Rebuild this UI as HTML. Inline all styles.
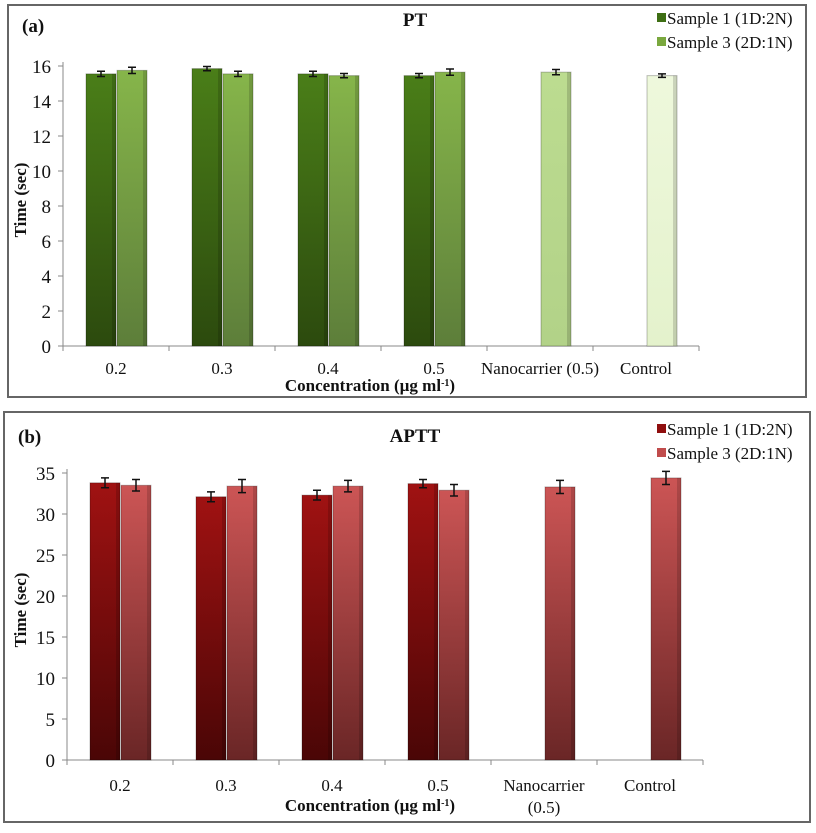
<!DOCTYPE html>
<html><head><meta charset="utf-8"><style>
body{margin:0;background:#fff;}
text{font-family:"Liberation Serif",serif;fill:#111;}
</style></head><body>
<svg id="c" width="816" height="828" viewBox="0 0 816 828" xmlns="http://www.w3.org/2000/svg">
<defs>
<linearGradient id="gA1" x1="0" y1="0" x2="0" y2="1"><stop offset="0" stop-color="#4a7e18"/><stop offset="1" stop-color="#2c4a0e"/></linearGradient>
<linearGradient id="gA2" x1="0" y1="0" x2="0" y2="1"><stop offset="0" stop-color="#86b54a"/><stop offset="1" stop-color="#5d7e3a"/></linearGradient>
<linearGradient id="gA3" x1="0" y1="0" x2="0" y2="1"><stop offset="0" stop-color="#bcdc90"/><stop offset="1" stop-color="#b2d288"/></linearGradient>
<linearGradient id="gA4" x1="0" y1="0" x2="0" y2="1"><stop offset="0" stop-color="#eef8dc"/><stop offset="1" stop-color="#e4f2cc"/></linearGradient>
<linearGradient id="gB1" x1="0" y1="0" x2="0" y2="1"><stop offset="0" stop-color="#a01212"/><stop offset="1" stop-color="#4a0606"/></linearGradient>
<linearGradient id="gB2" x1="0" y1="0" x2="0" y2="1"><stop offset="0" stop-color="#cc5555"/><stop offset="1" stop-color="#6a2626"/></linearGradient>
</defs>
<rect x="8" y="5" width="798" height="392" fill="#fff" stroke="#666" stroke-width="2"/>
<rect x="4" y="412" width="806" height="410" fill="#fff" stroke="#666" stroke-width="2"/>
<g id="pa"></g>
<g id="pb"></g>
</svg>
<script>
const categoriesA = ["0.2","0.3","0.4","0.5","Nanocarrier (0.5)","Control"];
const sample1A = [15.55,15.85,15.55,15.45];
const sample3A = [15.75,15.55,15.45,15.65,15.65,15.45];
const err1A = [0.15,0.12,0.15,0.12];
const err3A = [0.18,0.15,0.12,0.18,0.15,0.1];
const ticksA = [0,2,4,6,8,10,12,14,16];

const categoriesB = [["0.2"],["0.3"],["0.4"],["0.5"],["Nanocarrier","(0.5)"],["Control"]];
const sample1B = [33.8,32.1,32.3,33.7];
const sample3B = [33.5,33.4,33.4,32.9,33.3,34.4];
const err1B = [0.6,0.6,0.6,0.5];
const err3B = [0.7,0.8,0.7,0.7,0.8,0.8];
const ticksB = [0,5,10,15,20,25,30,35];

const NS="http://www.w3.org/2000/svg";
function mk(parent,tag,attrs,txt){const e=document.createElementNS(NS,tag);for(const k in attrs)e.setAttribute(k,attrs[k]);if(txt!==undefined)e.textContent=txt;parent.appendChild(e);return e;}

function drawPanel(g,cfg){
  const x0=cfg.x0,cw=106,n=6,y0=cfg.y0,ppu=cfg.ppu,bw=30;
  const yS=v=>y0-v*ppu;
  const xC=i=>x0+cw*i+cw/2;
  const ax=mk(g,'line',{x1:x0,y1:yS(cfg.max)-4,x2:x0,y2:y0,stroke:'#888','stroke-width':1});
  
  const bx=mk(g,'line',{x1:x0,y1:y0,x2:x0+cw*n,y2:y0,stroke:'#888','stroke-width':1});
  
  cfg.ticks.forEach(t=>{
    mk(g,'line',{x1:x0-5,y1:yS(t),x2:x0,y2:yS(t),stroke:'#888'});
    const l=mk(g,'text',{x:x0-12,y:yS(t)+7,'text-anchor':'end','font-size':19,'font-family':'Liberation Serif, serif'},t);
    
  });
  for(let i=0;i<=n;i++)mk(g,'line',{x1:x0+cw*i,y1:y0,x2:x0+cw*i,y2:y0+5,stroke:'#888'});
  function bar(x,v,e,fill,name){
    const r=mk(g,'rect',{x:x,y:yS(v),width:bw,height:y0-yS(v),fill:fill,stroke:'rgba(0,0,0,0.25)','stroke-width':1});
    
    mk(g,'rect',{x:x+bw-4,y:yS(v),width:4,height:y0-yS(v),fill:'rgba(0,0,0,0.15)'});
    const cx=x+bw/2;
    const eb=mk(g,'path',{d:`M${cx},${yS(v+e)}V${yS(v-e)}M${cx-4},${yS(v+e)}H${cx+4}M${cx-4},${yS(v-e)}H${cx+4}`,stroke:'#111','stroke-width':1.5,fill:'none'});
    
  }
  cfg.s1.forEach((v,i)=>bar(xC(i)-bw,v,cfg.e1[i],cfg.c1,'bar-sample1-'+i));
  cfg.s3.forEach((v,i)=>bar(xC(i)+1,v,cfg.e3[i],i<4?cfg.c2:(i==4?cfg.c3:cfg.c4),'bar-sample3-'+i));
  cfg.cats.forEach((c,i)=>{
    const lines=Array.isArray(c)?c:[c];
    lines.forEach((s,j)=>{
      const t=mk(g,'text',{x:xC(i),y:cfg.labY+j*22,'text-anchor':'middle','font-size':17,'font-family':'Liberation Serif, serif'},s);
      
    });
  });
}

const pa=document.getElementById('pa'), pb=document.getElementById('pb');
drawPanel(pa,{x0:63,y0:346,ppu:17.5,max:16,ticks:ticksA,s1:sample1A,s3:sample3A,e1:err1A,e3:err3A,cats:categoriesA,c1:'url(#gA1)',c2:'url(#gA2)',c3:'url(#gA3)',c4:'url(#gA4)',labY:374});
drawPanel(pb,{x0:67,y0:760,ppu:8.2,max:35,ticks:ticksB,s1:sample1B,s3:sample3B,e1:err1B,e3:err3B,cats:categoriesB,c1:'url(#gB1)',c2:'url(#gB2)',c3:'url(#gB2)',c4:'url(#gB2)',labY:791});
</script>
<svg width="816" height="828" style="position:absolute;left:0;top:0" xmlns="http://www.w3.org/2000/svg">
<text x="22" y="32" font-size="19" font-weight="bold">(a)</text>
<text x="415" y="26" font-size="19" font-weight="bold" text-anchor="middle">PT</text>
<text transform="translate(26,200) rotate(-90)" font-size="17" font-weight="bold" text-anchor="middle">Time (sec)</text>
<text x="370" y="391" font-size="17" font-weight="bold" text-anchor="middle">Concentration (µg ml<tspan baseline-shift="super" font-size="10">-1</tspan>)</text>
<g>
<rect x="657" y="13" width="9" height="9" fill="#3e6e14"/>
<text x="667" y="24" font-size="17">Sample 1 (1D:2N)</text>
<rect x="657" y="37" width="9" height="9" fill="#7aa83e"/>
<text x="667" y="48" font-size="17">Sample 3 (2D:1N)</text>
</g>
<text x="18" y="443" font-size="19" font-weight="bold">(b)</text>
<text x="415" y="442" font-size="19" font-weight="bold" text-anchor="middle">APTT</text>
<text transform="translate(26,610) rotate(-90)" font-size="17" font-weight="bold" text-anchor="middle">Time (sec)</text>
<text x="370" y="811" font-size="17" font-weight="bold" text-anchor="middle">Concentration (µg ml<tspan baseline-shift="super" font-size="10">-1</tspan>)</text>
<g>
<rect x="657" y="424" width="9" height="9" fill="#8f0e0e"/>
<text x="667" y="435" font-size="17">Sample 1 (1D:2N)</text>
<rect x="657" y="448" width="9" height="9" fill="#c04c4c"/>
<text x="667" y="459" font-size="17">Sample 3 (2D:1N)</text>
</g>
</svg>
</body></html>
